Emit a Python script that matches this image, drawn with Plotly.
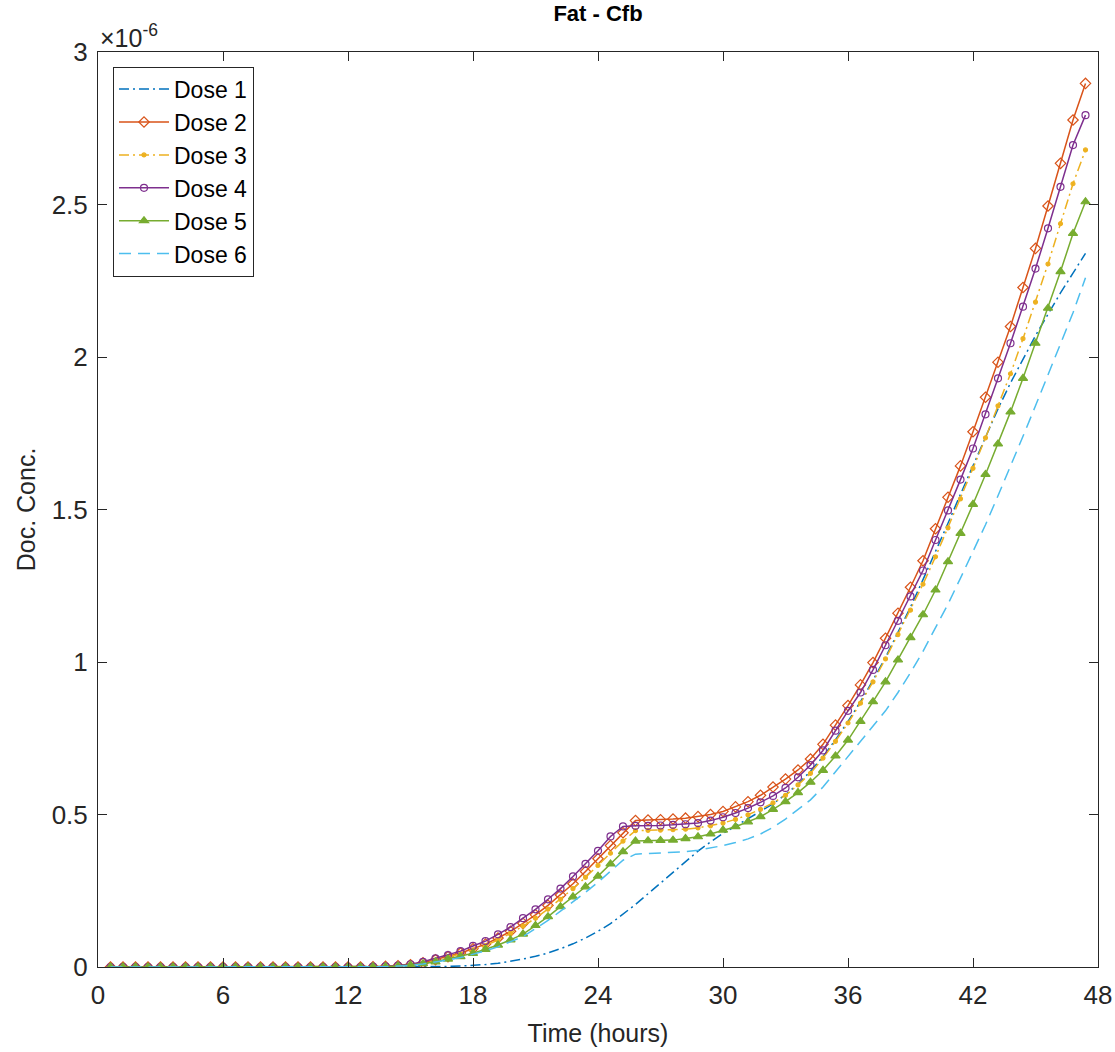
import numpy as np
import plotly.graph_objects as go

# Sampling grid: one sample every 0.6 h, from 0.6 h to 47.4 h
time_step_h = 0.6
n_samples = 79
time_h = np.round(np.arange(1, n_samples + 1) * time_step_h, 1)

# Concentrations in units of 1e-6 (rows of ten samples)
dose_1 = [
    0.000, 0.000, 0.000, 0.000, 0.000, 0.000, 0.000, 0.000, 0.000, 0.000,
    0.000, 0.000, 0.000, 0.000, 0.000, 0.000, 0.000, 0.000, 0.000, 0.000,
    0.000, 0.000, 0.000, 0.000,
    0.000, 0.000, 0.001, 0.002, 0.003, 0.005, 0.008, 0.012, 0.018, 0.026,
    0.035, 0.046, 0.060, 0.076, 0.095, 0.117, 0.142, 0.172, 0.205, 0.240,
    0.275, 0.312, 0.347, 0.380, 0.410, 0.438, 0.462, 0.486, 0.510, 0.535,
    0.565, 0.600, 0.642, 0.690, 0.745, 0.805, 0.870, 0.940, 1.015, 1.095,
    1.180, 1.270, 1.360, 1.455, 1.550, 1.645, 1.740, 1.830, 1.915, 1.995,
    2.070, 2.140, 2.210, 2.275, 2.340,
]
dose_2 = [
    0.000, 0.000, 0.000, 0.000, 0.000, 0.000, 0.000, 0.000, 0.000, 0.000,
    0.000, 0.000, 0.000, 0.000, 0.000, 0.000, 0.000, 0.000, 0.000, 0.000,
    0.000, 0.001, 0.002, 0.004,
    0.007, 0.014, 0.024, 0.034, 0.046, 0.060, 0.075, 0.095, 0.117, 0.143,
    0.171, 0.202, 0.236, 0.273, 0.313, 0.355, 0.398, 0.440, 0.480, 0.482,
    0.483, 0.485, 0.488, 0.493, 0.500, 0.510, 0.525, 0.542, 0.563, 0.590,
    0.616, 0.646, 0.682, 0.730, 0.793, 0.857, 0.925, 0.998, 1.078, 1.160,
    1.245, 1.332, 1.437, 1.540, 1.643, 1.755, 1.868, 1.983, 2.100, 2.228,
    2.356, 2.495, 2.635, 2.777, 2.897,
]
dose_3 = [
    0.000, 0.000, 0.000, 0.000, 0.000, 0.000, 0.000, 0.000, 0.000, 0.000,
    0.000, 0.000, 0.000, 0.000, 0.000, 0.000, 0.000, 0.000, 0.000, 0.000,
    0.000, 0.001, 0.002, 0.003,
    0.006, 0.013, 0.022, 0.032, 0.043, 0.056, 0.070, 0.089, 0.110, 0.134,
    0.160, 0.190, 0.222, 0.257, 0.294, 0.333, 0.373, 0.413, 0.447, 0.448,
    0.449, 0.450, 0.452, 0.456, 0.463, 0.472, 0.484, 0.499, 0.517, 0.538,
    0.563, 0.597, 0.635, 0.685, 0.740, 0.800, 0.865, 0.935, 1.010, 1.090,
    1.170, 1.255, 1.345, 1.440, 1.535, 1.635, 1.735, 1.840, 1.945, 2.060,
    2.180, 2.305, 2.437, 2.568, 2.679,
]
dose_4 = [
    0.000, 0.000, 0.000, 0.000, 0.000, 0.000, 0.000, 0.000, 0.000, 0.000,
    0.000, 0.000, 0.000, 0.000, 0.000, 0.000, 0.000, 0.000, 0.000, 0.000,
    0.000, 0.001, 0.002, 0.005,
    0.009, 0.017, 0.028, 0.039, 0.052, 0.069, 0.085, 0.107, 0.131, 0.160,
    0.189, 0.222, 0.257, 0.297, 0.338, 0.381, 0.428, 0.461, 0.463, 0.463,
    0.464, 0.466, 0.468, 0.472, 0.480, 0.491, 0.505, 0.521, 0.540, 0.561,
    0.587, 0.622, 0.662, 0.710, 0.775, 0.840, 0.900, 0.974, 1.055, 1.135,
    1.215, 1.300, 1.400, 1.497, 1.598, 1.700, 1.812, 1.930, 2.045, 2.165,
    2.290, 2.422, 2.558, 2.695, 2.793,
]
dose_5 = [
    0.000, 0.000, 0.000, 0.000, 0.000, 0.000, 0.000, 0.000, 0.000, 0.000,
    0.000, 0.000, 0.000, 0.000, 0.000, 0.000, 0.000, 0.000, 0.000, 0.000,
    0.000, 0.001, 0.001, 0.003,
    0.006, 0.011, 0.017, 0.026, 0.034, 0.045, 0.058, 0.072, 0.089, 0.108,
    0.136, 0.165, 0.198, 0.230, 0.263, 0.298, 0.338, 0.378, 0.413, 0.414,
    0.415, 0.416, 0.421, 0.427, 0.436, 0.449, 0.460, 0.476, 0.493, 0.517,
    0.542, 0.572, 0.606, 0.645, 0.692, 0.744, 0.805, 0.870, 0.935, 1.007,
    1.080, 1.155, 1.236, 1.329, 1.422, 1.517, 1.615, 1.715, 1.820, 1.930,
    2.045, 2.160, 2.280, 2.405, 2.509,
]
dose_6 = [
    0.000, 0.000, 0.000, 0.000, 0.000, 0.000, 0.000, 0.000, 0.000, 0.000,
    0.000, 0.000, 0.000, 0.000, 0.000, 0.000, 0.000, 0.000, 0.000, 0.000,
    0.000, 0.001, 0.001, 0.003,
    0.005, 0.010, 0.016, 0.023, 0.031, 0.041, 0.053, 0.066, 0.082, 0.100,
    0.126, 0.153, 0.183, 0.213, 0.245, 0.278, 0.313, 0.350, 0.370, 0.372,
    0.373, 0.375, 0.378, 0.383, 0.390, 0.398, 0.408, 0.420, 0.436, 0.458,
    0.485, 0.515, 0.548, 0.590, 0.640, 0.690, 0.740, 0.790, 0.840, 0.900,
    0.965, 1.035, 1.110, 1.190, 1.275, 1.360, 1.450, 1.545, 1.640, 1.740,
    1.840, 1.940, 2.040, 2.145, 2.260,
]

series_names = ["Dose 1", "Dose 2", "Dose 3", "Dose 4", "Dose 5", "Dose 6"]
series_values = [dose_1, dose_2, dose_3, dose_4, dose_5, dose_6]

x_ticks = [0, 6, 12, 18, 24, 30, 36, 42, 48]
y_tick_values = [0.0, 0.5, 1.0, 1.5, 2.0, 2.5, 3.0]
y_tick_labels = ["0", "0.5", "1", "1.5", "2", "2.5", "3"]
conc_scale = 1e-6

# Line/marker styles per dose
styles = [
    dict(color="#0072BD", dash="10px,4px,2px,4px", symbol=None, size=0),
    dict(color="#D95319", dash="solid", symbol="diamond-open", size=8),
    dict(color="#EDB120", dash="10px,4px,2px,4px", symbol="circle", size=4),
    dict(color="#7E2F8E", dash="solid", symbol="circle-open", size=7),
    dict(color="#77AC30", dash="solid", symbol="triangle-up", size=8),
    dict(color="#4DBEEE", dash="12px,7px", symbol=None, size=0),
]

FONT = "Liberation Sans, Arial, Helvetica, sans-serif"
INK = "#262626"

fig = go.Figure()
for name, vals, st in zip(series_names, series_values, styles):
    y = np.array(vals) * conc_scale
    if st["symbol"] is None:
        mode = "lines"
        marker = None
    else:
        mode = "lines+markers"
        marker = dict(symbol=st["symbol"], size=st["size"], color=st["color"],
                      line=dict(color=st["color"], width=1.2))
    fig.add_trace(go.Scatter(
        x=time_h, y=y, name=name, mode=mode,
        line=dict(color=st["color"], width=1.5, dash=st["dash"]),
        marker=marker,
    ))

fig.update_layout(
    width=1115, height=1052,
    margin=dict(l=98, r=17, t=52, b=85),
    paper_bgcolor="white", plot_bgcolor="white",
    font=dict(family=FONT, color=INK),
    title=dict(text="<b>Fat - Cfb</b>", x=0.5, xref="paper", xanchor="center",
               y=1 - 13 / 1052, yref="container", yanchor="middle",
               font=dict(size=22, color="black", family=FONT)),
    showlegend=True,
    legend=dict(x=0.015, y=0.984, xanchor="left", yanchor="top",
                bgcolor="white", bordercolor=INK, borderwidth=1,
                font=dict(size=23, color="black", family=FONT),
                itemwidth=50, tracegroupgap=0),
    xaxis=dict(range=[0, 48], tickvals=x_ticks, ticks="inside", ticklen=9,
               tickcolor=INK, showline=True, linecolor=INK, linewidth=1,
               mirror="ticks", showgrid=False, zeroline=False, automargin=False,
               tickfont=dict(size=26, color=INK), ticklabelstandoff=5,
               title=dict(text="Time (hours)", font=dict(size=25, color=INK), standoff=15)),
    yaxis=dict(range=[0, 3 * conc_scale],
               tickvals=[v * conc_scale for v in y_tick_values], ticktext=y_tick_labels,
               ticks="inside", ticklen=9, tickcolor=INK, showline=True, linecolor=INK,
               linewidth=1, mirror="ticks", showgrid=False, zeroline=False, automargin=False,
               tickfont=dict(size=26, color=INK), ticklabelstandoff=4,
               title=dict(text="Doc. Conc.", font=dict(size=25, color=INK), standoff=8)),
)

# Axis exponent label
fig.add_annotation(text="×10<sup>-6</sup>", xref="paper", yref="paper", x=0, y=1,
                   xanchor="left", yanchor="bottom", showarrow=False,
                   font=dict(size=25, color=INK, family=FONT), yshift=-2)

fig.write_html("out.html")
